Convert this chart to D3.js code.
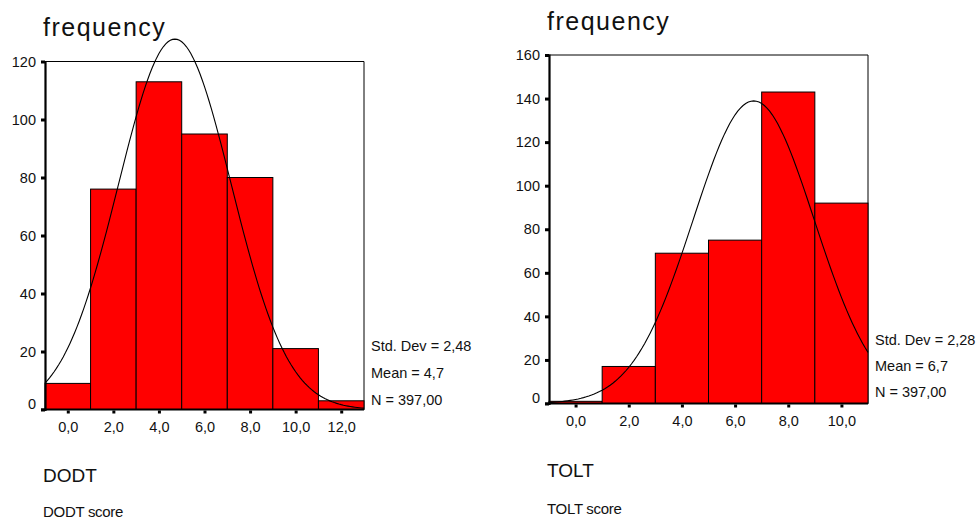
<!DOCTYPE html>
<html>
<head>
<meta charset="utf-8">
<script src="https://cdn.jsdelivr.net/npm/d3@7"></script>
<style>
  body { margin: 0; background: #fff; }
  svg text { font-family: "Liberation Sans", Arial, sans-serif; fill: #111; }
</style>
</head>
<body>
<svg id="chart" width="980" height="521"></svg>
<script>
// DODT histogram (bin centres, counts)
const dodtCenters = [0, 2, 4, 6, 8, 10, 12]
const dodtCounts = [9, 76, 113, 95, 80, 21, 3]
const dodtYTicks = [0, 20, 40, 60, 80, 100, 120]
const dodtStats = ["Std. Dev = 2,48", "Mean = 4,7", "N = 397,00"]
const dodtMean = 4.7, dodtSd = 2.48, dodtN = 397

// TOLT histogram
const toltCenters = [0, 2, 4, 6, 8, 10]
const toltCounts = [1, 17, 69, 75, 143, 92]
const toltYTicks = [0, 20, 40, 60, 80, 100, 120, 140, 160]
const toltStats = ["Std. Dev = 2,28", "Mean = 6,7", "N = 397,00"]
const toltMean = 6.7, toltSd = 2.28, toltN = 397

const binWidth = 2
const comma = d => d3.format(".1f")(d).replace(".", ",")

const svg = d3.select("#chart")

function drawHist(opt) {
    const g = svg.append("g")

    const x = d3.scaleLinear()
        .domain([opt.centers[0] - binWidth / 2, opt.centers[opt.centers.length - 1] + binWidth / 2])
        .range([opt.left, opt.right])
    const y = d3.scaleLinear()
        .domain([0, opt.yTicks[opt.yTicks.length - 1]])
        .range([opt.bottom, opt.top])

    // thin frame top + right
    g.append("line").attr("x1", opt.left).attr("x2", opt.right).attr("y1", y.range()[1]).attr("y2", y.range()[1])
        .attr("stroke", "#000").attr("stroke-width", 1)
    g.append("line").attr("x1", opt.right).attr("x2", opt.right).attr("y1", opt.top).attr("y2", opt.bottom)
        .attr("stroke", "#000").attr("stroke-width", 1)

    // bars
    g.selectAll("rect.bar")
        .data(opt.centers)
        .join("rect")
        .attr("class", "bar")
        .attr("x", d => x(d - binWidth / 2))
        .attr("width", d => x(d + binWidth / 2) - x(d - binWidth / 2))
        .attr("y", (d, i) => y(opt.counts[i]))
        .attr("height", (d, i) => y(0) - y(opt.counts[i]))
        .attr("fill", "#ff0000")
        .attr("stroke", "#000")
        .attr("stroke-width", 1)

    // fitted normal curve
    const pts = d3.range(x.domain()[0], x.domain()[1] + 0.001, 0.1).map(v => {
        const z = (v - opt.mean) / opt.sd
        return [v, opt.n * binWidth * Math.exp(-z * z / 2) / (opt.sd * Math.sqrt(2 * Math.PI))]
    })
    g.append("path")
        .datum(pts)
        .attr("fill", "none")
        .attr("stroke", "#000")
        .attr("stroke-width", 1.1)
        .attr("d", d3.line().x(d => x(d[0])).y(d => y(d[1])))

    // y axis
    const ya = g.append("g")
        .attr("transform", `translate(${opt.left},0)`)
        .call(d3.axisLeft(y).tickValues(opt.yTicks).tickSize(4).tickPadding(5).tickFormat(d3.format("d")))
    ya.select(".domain").attr("stroke-width", 2.2)
    ya.selectAll(".tick line").attr("stroke-width", 3)
    ya.selectAll(".tick text").style("font-size", "14.5px").style("font-family", "Liberation Sans, Arial, sans-serif")
    ya.selectAll(".tick").filter(d => d === 0).select("text").attr("dy", "-0.1em")

    // x axis
    const xa = g.append("g")
        .attr("transform", `translate(0,${opt.bottom})`)
        .call(d3.axisBottom(x).tickValues(opt.centers).tickSize(4).tickPadding(8).tickFormat(comma))
    xa.select(".domain").attr("stroke-width", 2.2).attr("d", `M${opt.left - 4},0H${opt.right}`)
    xa.selectAll(".tick line").attr("stroke-width", 3).attr("y1", 1)
    xa.selectAll(".tick text").style("font-size", "14.5px").style("font-family", "Liberation Sans, Arial, sans-serif")

    // titles
    g.append("text").attr("x", opt.left - 2).attr("y", opt.titleY)
        .style("font-size", "25px").style("letter-spacing", "1.5px").text("frequency")
    g.append("text").attr("x", opt.left - 2).attr("y", opt.nameY)
        .style("font-size", "19px").text(opt.name)
    g.append("text").attr("x", opt.left - 2).attr("y", opt.nameY + opt.scoreGap)
        .style("font-size", "15px").style("letter-spacing", "-0.3px").text(opt.name + " score")

    // stats
    g.selectAll("text.stat")
        .data(opt.stats)
        .join("text")
        .attr("class", "stat")
        .attr("x", opt.right + 7)
        .attr("y", (d, i) => opt.statY + i * opt.statGap)
        .style("font-size", "14.5px")
        .text(d => d)
}

drawHist({
    centers: dodtCenters, counts: dodtCounts, yTicks: dodtYTicks, stats: dodtStats,
    mean: dodtMean, sd: dodtSd, n: dodtN, name: "DODT",
    left: 45, right: 364, top: 61.5, bottom: 409.5,
    titleY: 36, nameY: 482, scoreGap: 35, statY: 351, statGap: 27
})

drawHist({
    centers: toltCenters, counts: toltCounts, yTicks: toltYTicks, stats: toltStats,
    mean: toltMean, sd: toltSd, n: toltN, name: "TOLT",
    left: 549, right: 868, top: 55, bottom: 403.5,
    titleY: 30, nameY: 477, scoreGap: 37, statY: 345, statGap: 26
})
</script>
</body>
</html>
